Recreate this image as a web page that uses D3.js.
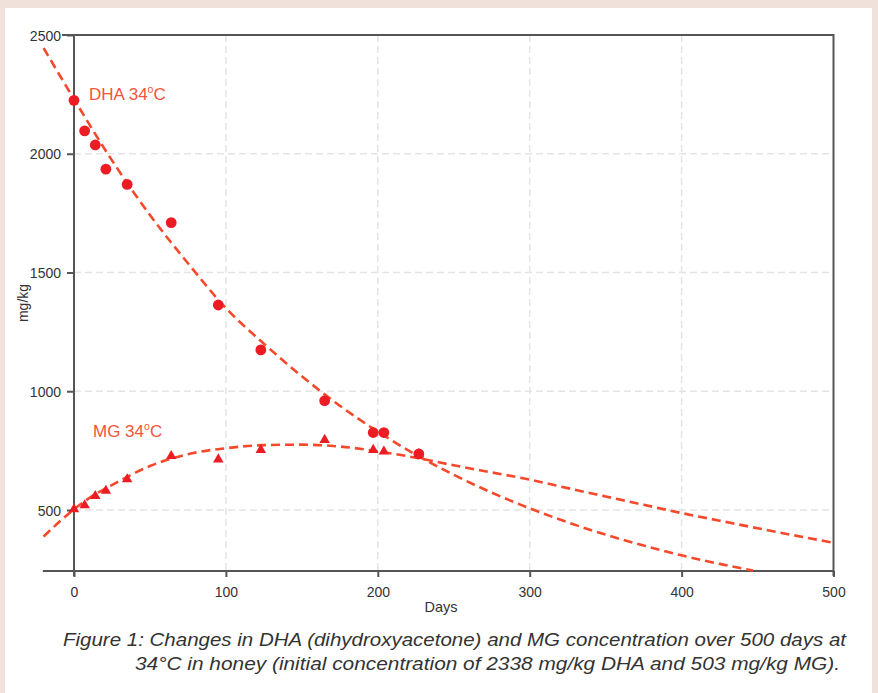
<!DOCTYPE html>
<html>
<head>
<meta charset="utf-8">
<style>
  body { margin: 0; background: #f0e2da; }
  svg { display: block; }
  .grid line { stroke: #e4e4e4; stroke-width: 1.5; stroke-dasharray: 7,4; }
  .fit { fill: none; stroke: #f4492a; stroke-width: 2.6; stroke-dasharray: 9,5; }
  .lbl { font-family: "Liberation Sans", Arial, sans-serif; font-size: 17px; fill: #f2553a; }
</style>
</head>
<body>
<svg width="878" height="693"></svg>
<script src="https://cdn.jsdelivr.net/npm/d3@7"></script>
<script>

// measured points
var dhaDays = [0, 7, 14, 21, 35, 64, 95, 123, 165, 197, 204, 227];
var dhaVals = [2225, 2096, 2037, 1935, 1871, 1710, 1363, 1174, 960, 826, 826, 736];
var mgDays = [0, 7, 14, 21, 35, 64, 95, 123, 165, 197, 204, 227];
var mgVals = [503, 520, 559, 581, 629, 727, 713, 753, 795, 753, 746, 735];

// fitted curves
var dhaFitDays = [-20, 0, 25, 50, 75, 100, 125, 150, 175, 200, 225, 250, 275, 300, 325, 350, 375, 400, 425, 447];
var dhaFitVals = [2445, 2230, 1972, 1742, 1539, 1350, 1200, 1063, 939, 830, 733, 648, 573, 507, 448, 396, 350, 309, 273, 245];
var mgFitDays = [-20, -10, 0, 10, 25, 50, 75, 100, 125, 150, 175, 200, 225, 250, 275, 300, 325, 350, 375, 400, 425, 450, 475, 500];
var mgFitVals = [388, 448, 503, 550, 605, 685, 735, 760, 773, 775, 767, 747, 720, 688, 658, 628, 592, 557, 522, 487, 455, 423, 392, 362];

var xTicks = [0, 100, 200, 300, 400, 500];
var yTicks = [500, 1000, 1500, 2000, 2500];

var svg = d3.select("svg");

svg.append("rect")
    .attr("x", 5).attr("y", 8)
    .attr("width", 867).attr("height", 685)
    .attr("fill", "#fff");

var x = d3.scaleLinear().domain([0, 500]).range([74, 833.5]);
var y = d3.scaleLinear().domain([243, 2500]).range([571, 35]);

// grid
var grid = svg.append("g").attr("class", "grid");
grid.selectAll(".gy")
    .data(yTicks.filter(function(d) { return d < 2500; }))
  .enter().append("line")
    .attr("x1", x(0)).attr("x2", x(500))
    .attr("y1", function(d) { return y(d); })
    .attr("y2", function(d) { return y(d); });
grid.selectAll(".gx")
    .data(xTicks.filter(function(d) { return d > 0 && d < 500; }))
  .enter().append("line")
    .attr("x1", function(d) { return x(d); })
    .attr("x2", function(d) { return x(d); })
    .attr("y1", y(2500)).attr("y2", y(243));

// axes
var xAxis = svg.append("g")
    .attr("transform", "translate(0," + y(243) + ")")
    .call(d3.axisBottom(x).tickValues(xTicks).tickFormat(d3.format("d"))
      .tickSize(6).tickPadding(10).tickSizeOuter(0));
xAxis.select(".domain").remove();
xAxis.append("line")
    .attr("x1", x(-20.5)).attr("x2", x(500))
    .attr("stroke", "#555").attr("stroke-width", 2);

var yAxis = svg.append("g")
    .attr("transform", "translate(" + x(0) + ",0)")
    .call(d3.axisLeft(y).tickValues(yTicks).tickFormat(d3.format("d"))
      .tickSize(7).tickPadding(6).tickSizeOuter(0));
yAxis.select(".domain").remove();
yAxis.append("line")
    .attr("y1", y(2500)).attr("y2", y(243) + 5)
    .attr("stroke", "#555").attr("stroke-width", 2);
svg.selectAll(".tick line").attr("stroke", "#555").attr("stroke-width", 2);
svg.selectAll(".tick text")
    .attr("font-family", "Liberation Sans, Arial, sans-serif")
    .attr("font-size", 14)
    .attr("fill", "#333");
yAxis.selectAll(".tick text").attr("dy", "0.36em");

// frame top / right
svg.append("path")
    .attr("d", "M" + (x(0) - 12) + "," + y(2500) + "H" + x(500) + "V" + (y(243) + 5))
    .attr("fill", "none").attr("stroke", "#555").attr("stroke-width", 2);

svg.append("text")
    .attr("x", 441).attr("y", 612)
    .attr("font-family", "Liberation Sans, Arial, sans-serif")
    .attr("font-size", 14.5).attr("fill", "#333")
    .attr("text-anchor", "middle")
    .text("Days");

svg.append("text")
    .attr("transform", "translate(28,303) rotate(-90)")
    .attr("font-family", "Liberation Sans, Arial, sans-serif")
    .attr("font-size", 14).attr("fill", "#333")
    .attr("text-anchor", "middle")
    .text("mg/kg");

// fitted lines
var line = d3.line()
    .x(function(d) { return x(d[0]); })
    .y(function(d) { return y(d[1]); })
    .curve(d3.curveMonotoneX);

svg.append("path").attr("class", "fit")
    .attr("d", line(d3.zip(dhaFitDays, dhaFitVals)));
svg.append("path").attr("class", "fit")
    .attr("d", line(d3.zip(mgFitDays, mgFitVals)));

// points
svg.append("g").selectAll("circle")
    .data(d3.zip(dhaDays, dhaVals))
  .enter().append("circle")
    .attr("cx", function(d) { return x(d[0]); })
    .attr("cy", function(d) { return y(d[1]); })
    .attr("r", 5.4)
    .attr("fill", "#ec1c24");

var tri = d3.symbol().type(d3.symbolTriangle).size(48);
svg.append("g").selectAll("path")
    .data(d3.zip(mgDays, mgVals))
  .enter().append("path")
    .attr("d", tri)
    .attr("transform", function(d) { return "translate(" + x(d[0]) + "," + y(d[1]) + ")"; })
    .attr("fill", "#ec1c24");

// series labels
function seriesLabel(name, px, py) {
  var t = svg.append("text").attr("class", "lbl").attr("x", px).attr("y", py);
  t.append("tspan").text(name + " 34");
  t.append("tspan").attr("font-size", 10.5).attr("dy", -7).text("o");
  t.append("tspan").attr("dy", 7).text("C");
}
seriesLabel("DHA", 89, 100);
seriesLabel("MG", 93, 437);

// caption
var cap = svg.append("g")
    .attr("font-family", "Liberation Sans, Arial, sans-serif")
    .attr("font-style", "italic")
    .attr("font-size", 19)
    .attr("fill", "#333")
    .attr("text-anchor", "end");
cap.append("text").attr("x", 846).attr("y", 646)
    .attr("textLength", 783).attr("lengthAdjust", "spacingAndGlyphs")
    .text("Figure 1: Changes in DHA (dihydroxyacetone) and MG concentration over 500 days at");
cap.append("text").attr("x", 840).attr("y", 670)
    .attr("textLength", 705).attr("lengthAdjust", "spacingAndGlyphs")
    .text("34°C in honey (initial concentration of 2338 mg/kg DHA and 503 mg/kg MG).");

</script>
</body>
</html>
